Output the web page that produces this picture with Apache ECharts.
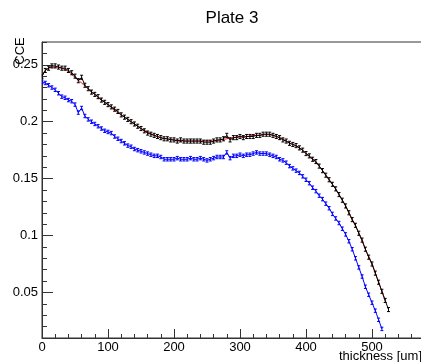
<!DOCTYPE html>
<html><head><meta charset="utf-8">
<script src="https://cdn.jsdelivr.net/npm/echarts@6/dist/echarts.min.js"></script>
<style>html,body{margin:0;padding:0;background:#fff;overflow:hidden;width:421px;height:362px}#c{width:444px;height:362px}</style>
</head><body><div id="c"></div>
<script>
var thickness = [0,5,10,15,20,25,30,35,40,45,50,55,60,65,70,75,80,85,90,95,
100,105,110,115,120,125,130,135,140,145,150,155,160,165,170,175,180,185,190,195,
200,205,210,215,220,225,230,235,240,245,250,255,260,265,270,275,280,285,290,295,
300,305,310,315,320,325,330,335,340,345,350,355,360,365,370,375,380,385,390,395,
400,405,410,415,420,425,430,435,440,445,450,455,460,465,470,475,480,485,490,495,
500,505,510,515,520,525];
var cceBlack = [
0.240,0.245,0.247,0.249,0.249,0.248,0.247,0.247,0.245,0.243,
0.240,0.236,0.239,0.232,0.229,0.226,0.224,0.222,0.219,0.217,
0.215,0.213,0.211,0.209,0.206,0.204,0.202,0.200,0.198,0.196,
0.194,0.192,0.190,0.189,0.188,0.187,0.186,0.185,0.185,0.184,
0.184,0.183,0.184,0.183,0.183,0.183,0.183,0.183,0.183,0.182,
0.182,0.182,0.183,0.184,0.184,0.185,0.188,0.184,0.186,0.186,
0.187,0.186,0.187,0.187,0.187,0.188,0.188,0.189,0.189,0.189,
0.188,0.187,0.186,0.184,0.183,0.181,0.180,0.179,0.177,0.175,
0.172,0.170,0.167,0.165,0.161,0.157,0.153,0.149,0.145,0.141,
0.136,0.131,0.126,0.120,0.114,0.109,0.102,0.096,0.088,0.081,
0.075,0.067,0.059,0.051,0.043,0.035];
var cceBlue = [
0.235,0.234,0.232,0.230,0.228,0.225,0.222,0.221,0.219,0.218,
0.215,0.208,0.212,0.205,0.202,0.200,0.198,0.196,0.194,0.192,
0.191,0.190,0.187,0.185,0.183,0.181,0.179,0.178,0.176,0.175,
0.174,0.173,0.172,0.171,0.170,0.170,0.169,0.167,0.167,0.167,
0.167,0.168,0.167,0.167,0.167,0.168,0.167,0.167,0.168,0.167,
0.166,0.167,0.168,0.169,0.169,0.169,0.173,0.168,0.170,0.170,
0.171,0.170,0.171,0.171,0.172,0.173,0.172,0.172,0.172,0.171,
0.170,0.169,0.167,0.166,0.164,0.161,0.159,0.157,0.155,0.152,
0.149,0.146,0.142,0.139,0.135,0.132,0.128,0.124,0.119,0.115,
0.111,0.106,0.101,0.095,0.088,0.080,0.072,0.064,0.055,0.048,
0.041,0.034,0.026,0.018];
var fitX = [0,10,20,30,40,50,60,70,80,90,100,110,120,130,140,150,160,170,180,190,
200,210,220,230,240,250,260,270,280,290,300,310,320,330,340,350,360,370,380,390,
400,410,420,430,440,450,460,470,480,490,500,510,520];
var fitY = [0.241,0.247,0.248,0.247,0.244,0.239,0.234,0.229,0.224,0.219,
0.215,0.210,0.206,0.202,0.198,0.194,0.191,0.188,0.186,0.185,
0.184,0.183,0.183,0.183,0.183,0.183,0.183,0.184,0.185,0.186,
0.187,0.187,0.188,0.188,0.189,0.188,0.186,0.183,0.180,0.177,
0.172,0.167,0.161,0.153,0.145,0.136,0.126,0.114,0.102,0.088,
0.075,0.059,0.043];
var errBlack = 0.0018;
var errBlue = 0.0015;
var yMajor = [0.05,0.1,0.15,0.2,0.25];
var yLabels = ['0.05','0.1','0.15','0.2','0.25'];

function pairs(xs, ys){ var out=[]; for(var i=0;i<ys.length;i++) out.push([xs[i], ys[i]]); return out; }
function errPts(xs, ys, e){ var out=[]; for(var i=0;i<ys.length;i++) out.push([xs[i], ys[i], e]); return out; }
function errItem(color){
  return function(params, api){
    var x=api.value(0), y=api.value(1), e=api.value(2);
    var lo=api.coord([x,y-e]), hi=api.coord([x,y+e]);
    var w=1.5, st={stroke:color,lineWidth:1};
    return {type:'group', children:[
      {type:'line', shape:{x1:lo[0],y1:lo[1],x2:hi[0],y2:hi[1]}, style:st},
      {type:'line', shape:{x1:lo[0]-w,y1:lo[1],x2:lo[0]+w,y2:lo[1]}, style:st},
      {type:'line', shape:{x1:hi[0]-w,y1:hi[1],x2:hi[0]+w,y2:hi[1]}, style:st}
    ]};
  };
}
var FONT = 'Liberation Sans, Arial, sans-serif';
var chart = echarts.init(document.getElementById('c'), null, {renderer:'canvas'});
chart.setOption({
  animation:false,
  backgroundColor:'#fff',
  grid:{left:42, top:42, width:396, height:296, show:true, borderColor:'#333', borderWidth:1, containLabel:false, outerBoundsMode:'none'},
  xAxis:{type:'value', min:0, max:600, interval:100,
    axisLine:{show:true, lineStyle:{color:'#333', width:1}},
    axisTick:{show:true, inside:true, length:9, lineStyle:{color:'#333'}},
    minorTick:{show:true, splitNumber:5, length:4, lineStyle:{color:'#333'}},
    splitLine:{show:false},
    axisLabel:{color:'#000', fontSize:13, fontFamily:FONT, margin:3,
      formatter:function(v){return String(v);}}
  },
  yAxis:[
    {type:'value', min:0.01, max:0.27, interval:0.01, position:'left',
      axisLine:{show:true, lineStyle:{color:'#333', width:1}},
      axisTick:{show:true, inside:true, length:11, customValues:yMajor, lineStyle:{color:'#333'}},
      splitLine:{show:false},
      axisLabel:{color:'#000', fontSize:13, fontFamily:FONT, margin:4, customValues:yMajor,
        formatter:function(v){ for(var i=0;i<yMajor.length;i++){ if(Math.abs(v-yMajor[i])<1e-9) return yLabels[i]; } return ''; }}
    },
    {type:'value', min:0.01, max:0.27, interval:0.01, position:'left', offset:0,
      axisLine:{show:false},
      axisTick:{show:true, inside:true, length:5, lineStyle:{color:'#333'}},
      splitLine:{show:false}, axisLabel:{show:false}
    }
  ],
  graphic:[
    {type:'text', x:232, y:18, style:{text:'Plate 3', font:'17px '+FONT, fill:'#000', align:'center', verticalAlign:'middle'}},
    {type:'text', x:20, y:51, rotation:Math.PI/2, style:{text:'CCE', font:'13px '+FONT, fill:'#000', align:'center', verticalAlign:'middle'}},
    {type:'rect', x:421, y:339, shape:{width:30, height:30}, style:{fill:'#fff'}, z:50},
    {type:'text', x:422, y:356, z:60, style:{text:'thickness [um]', font:'13px '+FONT, fill:'#000', align:'right', verticalAlign:'middle'}}
  ],
  series:[
    {type:'line', data:pairs(thickness, cceBlue), symbol:'none', lineStyle:{color:'#0000ff', width:1}, itemStyle:{color:'#0000ff'}, clip:true, z:2},
    {type:'custom', data:errPts(thickness, cceBlue, errBlue), renderItem:errItem('#0000ff'), encode:{x:0,y:1}, clip:true, z:3},
    {type:'line', data:pairs(fitX, fitY), smooth:true, symbol:'none', lineStyle:{color:'#ff0000', width:1}, clip:true, z:2},
    {type:'line', data:pairs(thickness, cceBlack), symbol:'none', lineStyle:{color:'#000', width:1}, clip:true, z:3},
    {type:'custom', data:errPts(thickness, cceBlack, errBlack), renderItem:errItem('#000'), encode:{x:0,y:1}, clip:true, z:4}
  ]
});
</script></body></html>
